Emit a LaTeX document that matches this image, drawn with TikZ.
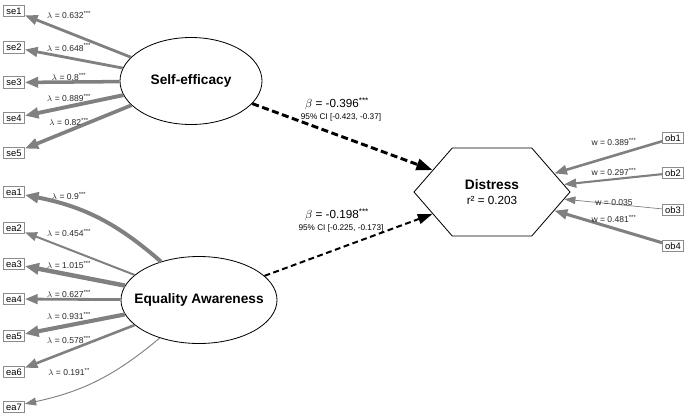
\documentclass[tikz,border=0pt]{standalone}
\usepackage{fontspec}
\setmainfont{Liberation Sans}
\usetikzlibrary{arrows.meta}
\usetikzlibrary{shapes.geometric,shapes.symbols}
\definecolor{pathgray}{RGB}{128,128,128}
\definecolor{boxgray}{RGB}{140,140,140}
\tikzset{
    obsbox/.style={draw=boxgray, line width=0.6pt, minimum width=0.63cm, minimum height=0.34cm, inner sep=1pt, font=\fontsize{8}{9}\selectfont},
    latent/.style={ellipse, draw, line width=0.7pt, minimum height=2.61cm, inner ysep=0pt, inner xsep=-10pt, font=\fontsize{11.7}{14}\selectfont\bfseries},
    loading/.style={draw=pathgray, -{Triangle[length=9pt 0.8, width=6pt 0.9]}},
    loadlabel/.style={inner sep=0pt, text=black!85, font=\fontsize{7.3}{8}\selectfont},
    regpath/.style={draw=black, dash pattern=on 6pt off 3pt, -{Triangle[length=10pt 1.5, width=6pt 1.5]}}
}
\begin{document}
\begin{tikzpicture}[x=0.03cm, y=-0.03cm]
    \useasboundingbox (0,0) rectangle (689,419);
    \node[latent, minimum width=4.26cm] (se) at (191,81) {Self-efficacy};
    \node[latent, minimum width=4.68cm] (ea) at (199,300) {Equality Awareness};
    \node[signal, signal to=west and east, signal pointer angle=98, draw, line width=0.7pt, minimum width=4.68cm, minimum height=2.64cm, inner sep=0pt, align=center, font=\fontsize{10}{12.5}\selectfont] (dis) at (492,192) {{\fontsize{11.7}{14}\selectfont\bfseries Distress}\\r² = 0.203};
    \foreach \i/\yb/\yl/\w/\val in {1/11/15/2.4/{0.632\textsuperscript{***}}, 2/47.5/47.5/2.4/{0.648\textsuperscript{***}}, 3/82.5/77/3.0/{0.8\textsuperscript{***}}, 4/118/98/3.3/{0.889\textsuperscript{***}}, 5/153/122/3.1/{0.82\textsuperscript{***}}}
    {
        \node[obsbox] (se\i) at (14,\yb) {se\i};
        \draw[loading, line width=\w pt] (se) -- (se\i);
        \node[loadlabel] (lse\i) at (69,\yl) {$\lambda$ = \val};
    }
    \foreach \i/\yb/\yl/\w/\b/\val in {1/192/196/3.4/-15/{0.9\textsuperscript{***}}, 2/228/233/1.7/0/{0.454\textsuperscript{***}}, 3/264/265/3.8/0/{1.015\textsuperscript{***}}, 4/299/294/2.4/0/{0.627\textsuperscript{***}}, 5/336/316/3.5/0/{0.931\textsuperscript{***}}, 6/372/340/2.2/0/{0.578\textsuperscript{***}}, 7/407/372/0.8/14/{0.191\textsuperscript{**}}}
    {
        \node[obsbox] (ea\i) at (14,\yb) {ea\i};
        \draw[loading, line width=\w pt] (ea) to[bend left=\b] (ea\i);
        \node[loadlabel] (lea\i) at (69,\yl) {$\lambda$ = \val};
    }
    \foreach \i/\yb/\yl/\w/\val in {1/138/142/2.2/{0.389\textsuperscript{***}}, 2/173/172/1.8/{0.297\textsuperscript{***}}, 3/210/203/0.6/{0.035}, 4/246/219/2.6/{0.481\textsuperscript{***}}}
    {
        \node[obsbox] (ob\i) at (673,\yb) {ob\i};
        \draw[loading, line width=\w pt] (ob\i) -- (dis);
        \node[loadlabel] (lob\i) at (614,\yl) {w = \val};
    }
    \draw[regpath, line width=2.5pt] (se) -- (dis);
    \draw[regpath, line width=1.7pt, dash pattern=on 5pt off 3pt] (ea) -- (dis);
    \node[font=\fontsize{10}{12}\selectfont, inner sep=0pt] (bse) at (337,104) {$\beta$ = -0.396\textsuperscript{***}};
    \node[font=\fontsize{7}{8}\selectfont, inner sep=0pt] (cse) at (341,117) {95\% CI [-0.423, -0.37]};
    \node[font=\fontsize{10}{12}\selectfont, inner sep=0pt] (bea) at (337,215) {$\beta$ = -0.198\textsuperscript{***}};
    \node[font=\fontsize{7}{8}\selectfont, inner sep=0pt] (cea) at (341,228) {95\% CI [-0.225, -0.173]};
\end{tikzpicture}
\end{document}
